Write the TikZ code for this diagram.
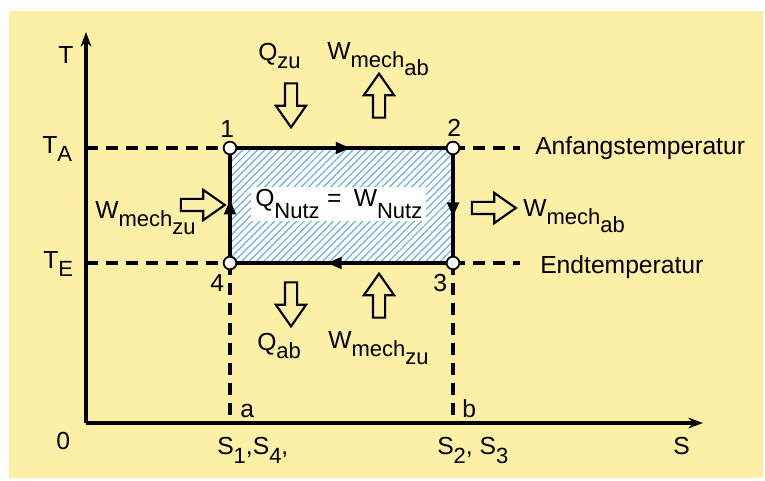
\documentclass[tikz,border=0pt]{standalone}
\usepackage{fontspec}
\setmainfont{Liberation Sans}
\usetikzlibrary{arrows.meta,shapes.arrows,patterns.meta,decorations.markings}

\definecolor{bgyellow}{RGB}{253,240,166}
\definecolor{hatchblue}{RGB}{110,172,226}
\newcommand{\lblfont}{\fontsize{18.5}{22}\selectfont}
\newcommand{\lo}[1]{\raisebox{-6pt}{\fontsize{16.5}{18}\selectfont #1}}
\newcommand{\deeplo}[1]{\raisebox{-8.5pt}{\fontsize{16.5}{18}\selectfont #1}}

\begin{document}
\begin{tikzpicture}[x=0.75pt, y=-0.75pt, font=\lblfont,
  lbl/.style={inner sep=0pt, anchor=base west},
  axis/.style={line width=2.8pt, -{Stealth[length=11pt,width=8pt]}},
  guide/.style={line width=2.3pt, dash pattern=on 9pt off 6pt},
  side/.style={line width=2.8pt, postaction={decorate},
    decoration={markings, mark=at position #1 with {\arrow{Triangle[length=11pt,width=8.5pt]}}}},
  statept/.style={circle, draw, fill=white, line width=1.3pt, inner sep=0pt, minimum size=9.5pt},
  blockarrow/.style={single arrow, draw, line width=1.6pt, inner sep=3.75pt,
    minimum height=33pt, single arrow head extend=6.75pt, single arrow tip angle=70}]

\useasboundingbox (0,0) rectangle (765,481);
\fill[bgyellow] (9,11) rectangle (763,478);

% corners of the cycle and helper points
\coordinate (c1) at (230,148);
\coordinate (c2) at (453,148);
\coordinate (c3) at (453,263);
\coordinate (c4) at (230,263);
\coordinate (o) at (86,423);
\coordinate (ttop) at (86,32);
\coordinate (sright) at (703,423);
\coordinate (ta) at (86,148);
\coordinate (te) at (86,263);
\coordinate (sa) at (230,423);
\coordinate (sb) at (453,423);
\coordinate (ea) at (520,148);
\coordinate (ee) at (520,263);

% guide lines
\draw[guide] (ta) -- (c1);
\draw[guide] (te) -- (c4);
\draw[guide] (c2) -- (ea);
\draw[guide] (c3) -- (ee);
\draw[guide] (c4) -- (sa);
\draw[guide] (c3) -- (sb);

% axes
\draw[axis] (o) -- (ttop);
\draw[axis] (o) -- (sright);

% hatched area
\fill[white] (c1) rectangle (c3);
\fill[pattern={Lines[angle=45,distance=3.9pt,line width=0.9pt]}, pattern color=hatchblue] (c1) rectangle (c3);
\node[lbl, fill=white, inner xsep=3pt, inner ysep=2pt] (nutz) at (251,207)
  {Q\deeplo{Nutz}\hspace{0.3em}=\hspace{0.5em}W\deeplo{Nutz}};

% cycle
\draw[side=0.54] (c1) -- (c2);
\draw[side=0.6] (c2) -- (c3);
\draw[side=0.565] (c3) -- (c4);
\draw[side=0.55] (c4) -- (c1);
\node[statept] (p1) at (c1) {};
\node[statept] (p2) at (c2) {};
\node[statept] (p3) at (c3) {};
\node[statept] (p4) at (c4) {};
\node[lbl] (n1) at (220,138) {1};
\node[lbl] (n2) at (447,137) {2};
\node[lbl] (n3) at (433,292) {3};
\node[lbl] (n4) at (210,292) {4};

% energy flows
\node[blockarrow, rotate=-90] (qzuarr) at (291,101) {};
\node[blockarrow, rotate=90] (wabarr) at (379,100) {};
\node[blockarrow, rotate=-90] (qabarr) at (291,300) {};
\node[blockarrow, rotate=90] (wzuarr) at (379,300) {};
\node[blockarrow] (wzuin) at (198.5,205) {};
\node[blockarrow] (wabout) at (489.5,208) {};
\node[lbl] (qzu) at (258,61) {Q\lo{zu}};
\node[lbl] (wabtop) at (327,60) {W\lo{mech\lo{ab}}};
\node[lbl] (qab) at (257,350) {Q\lo{ab}};
\node[lbl] (wzubot) at (328,349) {W\lo{mech\lo{zu}}};
\node[lbl] (wzuleft) at (95,219) {W\lo{mech\lo{zu}}};
\node[lbl] (wabright) at (523,217) {W\lo{mech\lo{ab}}};

% axis labels
\node[lbl] (tlbl) at (58,64) {T};
\node[lbl] (talbl) at (42,154) {T\lo{A}};
\node[lbl] (telbl) at (43,269) {T\lo{E}};
\node[lbl] (zero) at (56,450) {0};
\node[lbl] (slbl) at (673,455) {S};
\node[lbl] (s14) at (217,455) {S\lo{1},S\lo{4},};
\node[lbl] (s23) at (437,455) {S\lo{2}, S\lo{3}};
\node[lbl] (albl) at (240,417) {a};
\node[lbl] (blbl) at (462,417) {b};
\node[lbl] (anf) at (535,155) {Anfangstemperatur};
\node[lbl] (endlbl) at (540,274) {Endtemperatur};

\end{tikzpicture}
\end{document}
